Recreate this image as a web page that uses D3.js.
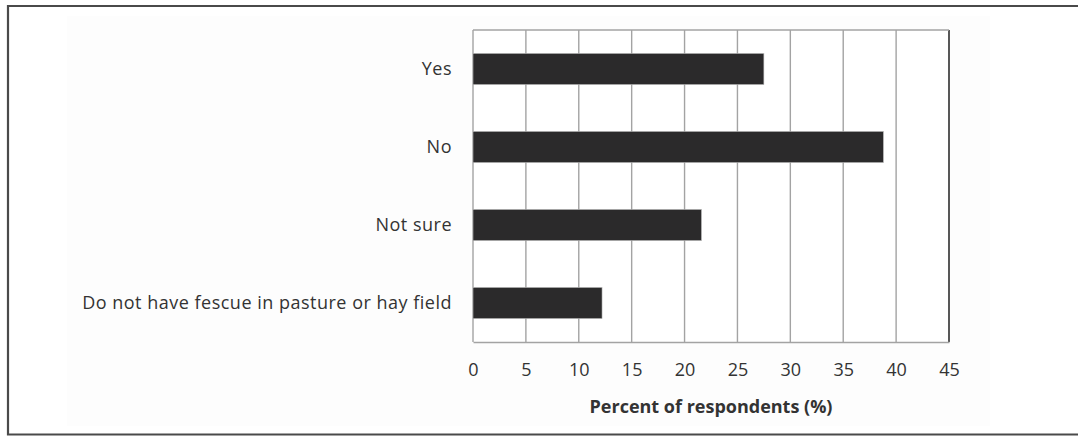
<!DOCTYPE html>
<html>
<head>
<meta charset="utf-8">
<script src="https://cdn.jsdelivr.net/npm/d3@7"></script>
<style>
  body { margin: 0; background: #fff; }
  svg { display: block; font-family: "Open Sans", "Liberation Sans", sans-serif; }
</style>
</head>
<body>
<div id="chart"></div>
<script>
// answers and percent of respondents
const categories = ['Yes', 'No', 'Not sure', 'Do not have fescue in pasture or hay field'];
const percents = [27.5, 38.8, 21.6, 12.2];
const xTicks = [0, 5, 10, 15, 20, 25, 30, 35, 40, 45];
const xTitle = 'Percent of respondents (%)';

let W = 1078, H = 436;
let margin = { top: 30, right: 129, bottom: 94, left: 473 },
    width = W - margin.left - margin.right,
    height = H - margin.top - margin.bottom;

let svg = d3.select('#chart').append('svg')
            .attr('width', W)
            .attr('height', H);

// faint chart-area tint
svg.append('rect')
    .attr('x', 67).attr('y', 16).attr('width', 923).attr('height', 410)
    .attr('fill', '#fdfdfd');

// outer frame (top, left, bottom only)
svg.append('path')
    .attr('d', 'M1078,6 H8 V434.5 H1078')
    .attr('fill', 'none')
    .attr('stroke', '#4a4a4a')
    .attr('stroke-width', 2.2);

let g = svg.append('g')
           .attr('transform', 'translate(' + margin.left + ',' + margin.top + ')');

let x = d3.scaleLinear().domain([0, 45]).range([0, width]);
let y = d3.scaleBand().domain(categories).range([0, height]).paddingInner(0.6).paddingOuter(0.3);

// white plot background
g.append('rect').attr('width', width).attr('height', height).attr('fill', '#fff');

// vertical gridlines
g.selectAll('.grid')
    .data(xTicks)
    .enter().append('line')
    .attr('class', 'grid')
    .attr('x1', d => x(d)).attr('x2', d => x(d))
    .attr('y1', 0).attr('y2', height)
    .attr('stroke', d => d === 45 ? '#2e2e2e' : '#a3a3a3')
    .attr('stroke-width', d => d === 45 ? 1.6 : 1.4);

// top of plot box
g.append('line').attr('x1', 0).attr('x2', width).attr('y1', 0).attr('y2', 0)
    .attr('stroke', '#a3a3a3').attr('stroke-width', 1.4);

// bars
g.selectAll('.bar')
    .data(categories)
    .enter().append('rect')
    .attr('class', 'bar')
    .attr('x', x(0))
    .attr('y', d => y(d))
    .attr('width', (d, i) => x(percents[i]) - x(0))
    .attr('height', y.bandwidth())
    .attr('fill', '#2b2a2b')
    .attr('stroke', '#bdbdbd')
    .attr('stroke-width', 0.6);

// x axis
let xAxis = g.append('g')
    .attr('transform', 'translate(0,' + height + ')')
    .call(d3.axisBottom(x).tickValues(xTicks).tickSize(0).tickPadding(21));
xAxis.select('.domain').attr('stroke', '#a3a3a3').attr('stroke-width', 1.6);
xAxis.selectAll('.tick text')
    .style('font-size', '18px')
    .style('font-family', '"Open Sans", sans-serif')
    .attr('fill', '#333');

// y axis labels
let yAxis = g.append('g')
    .call(d3.axisLeft(y).tickSize(0).tickPadding(21));
yAxis.select('.domain').remove();
yAxis.selectAll('.tick text')
    .style('font-size', '18px')
    .style('letter-spacing', '0.5px')
    .style('font-family', '"Open Sans", sans-serif')
    .attr('fill', '#333');

// axis title
g.append('text')
    .attr('x', width / 2)
    .attr('y', height + 71)
    .attr('text-anchor', 'middle')
    .style('font-size', '18px')
    .style('font-weight', 'bold')
    .attr('fill', '#333')
    .text(xTitle);
</script>
</body>
</html>
